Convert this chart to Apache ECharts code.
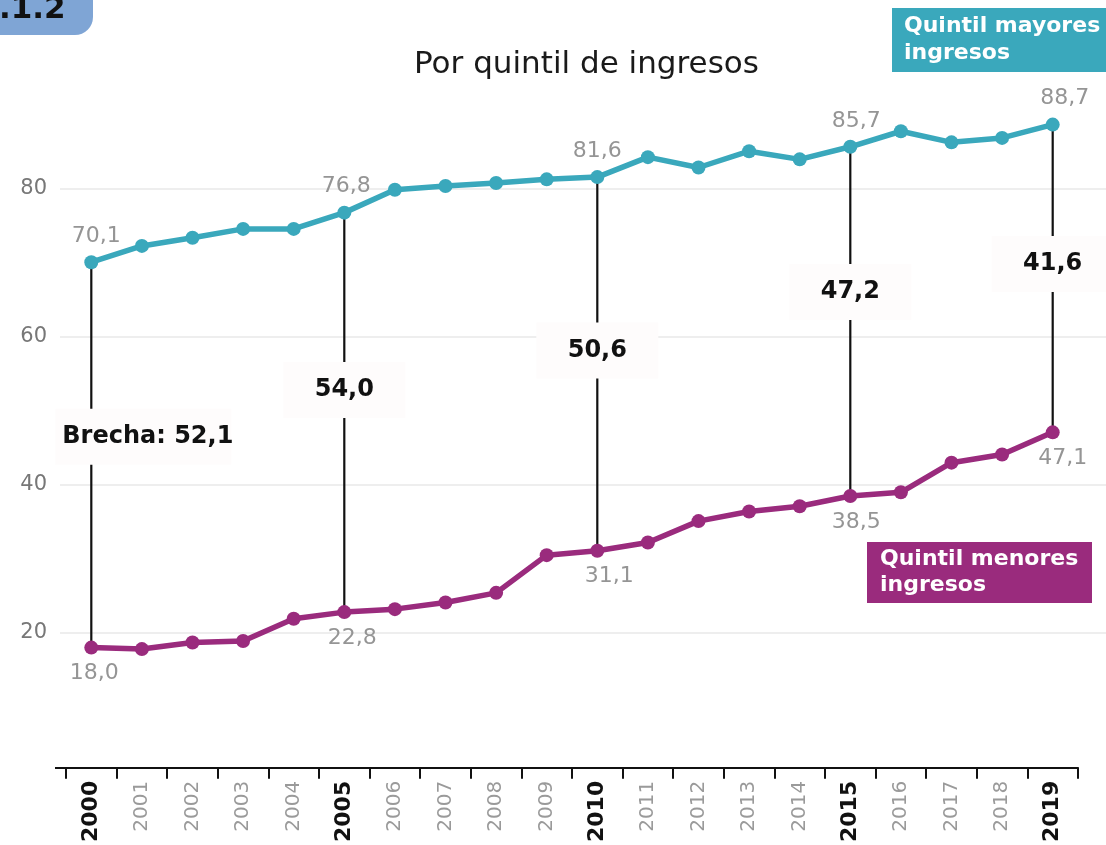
<!DOCTYPE html>
<html>
<head>
<meta charset="utf-8">
<script src="https://cdn.jsdelivr.net/npm/echarts@6/dist/echarts.min.js"></script>
<style>
html,body{margin:0;padding:0;background:#fff;}
#chart{width:1106px;height:845px;}
</style>
</head>
<body>
<div id="chart"></div>
<script>
// ---- data ----
const years = ['2000','2001','2002','2003','2004','2005','2006','2007','2008','2009',
               '2010','2011','2012','2013','2014','2015','2016','2017','2018','2019'];
const topQuintile = [70.1, 72.3, 73.4, 74.6, 74.6, 76.8, 79.9, 80.4, 80.8, 81.3,
                     81.6, 84.3, 82.9, 85.1, 84.0, 85.7, 87.8, 86.3, 86.9, 88.7];
const bottomQuintile = [18.0, 17.8, 18.7, 18.9, 21.9, 22.8, 23.2, 24.1, 25.4, 30.5,
                        31.1, 32.2, 35.1, 36.4, 37.1, 38.5, 39.0, 43.0, 44.1, 47.1];
const highlightYears = ['2000','2005','2010','2015','2019'];
const gapLabels = ['Brecha: 52,1', '54,0', '50,6', '47,2', '41,6'];
const yTickLabels = [20, 40, 60, 80];
const topName = ['Quintil mayores', 'ingresos'];
const bottomName = ['Quintil menores', 'ingresos'];

// ---- styles ----
const FONT = 'DejaVu Sans';
const TEAL = '#3aa8bc';
const PURPLE = '#9a2b7d';
const GRAY = '#959595';
const labelFrac = [0.547, 0.556, 0.536, 0.584, 0.547];
const topLabelDx = [5, 2, 0, 6, 12];
const botLabelDx = [3, 8, 12, 6, 10];

const hlIdx = highlightYears.map(y => years.indexOf(y));
const fmt = v => v.toFixed(1).replace('.', ',');

function lineData(arr, dx, pos) {
  return arr.map((v, i) => {
    const k = hlIdx.indexOf(i);
    if (k < 0) return v;
    return { value: v, label: { show: true, position: pos, offset: [dx[k], 0] } };
  });
}

const gapData = hlIdx.map((i, k) => [i, topQuintile[i], bottomQuintile[i], k]);

const chart = echarts.init(document.getElementById('chart'), null, { renderer: 'canvas' });

const option = {
  backgroundColor: '#ffffff',
  animation: false,
  textStyle: { fontFamily: FONT },
  title: {
    text: 'Por quintil de ingresos',
    left: 409, top: 44,
    textStyle: { fontFamily: FONT, fontSize: 31, fontWeight: 'normal', color: '#1a1a1a' }
  },
  grid: [
    { left: 66, right: 28, top: 41, bottom: 64, containLabel: false },
    { left: 60, right: 0, top: 41, bottom: 64, containLabel: false }
  ],
  xAxis: [
    {
      type: 'category', gridIndex: 0, data: years, boundaryGap: true,
      offset: -13,
      axisLine: { show: true, lineStyle: { color: '#111', width: 2 } },
      axisTick: { show: true, length: 11, lineStyle: { color: '#111', width: 2 } },
      axisLabel: {
        rotate: 90, margin: 13, interval: 0,
        formatter: v => highlightYears.includes(v) ? '{b|' + v + '}' : '{n|' + v + '}',
        rich: {
          b: { fontFamily: FONT, fontSize: 22, fontWeight: 'bold', color: '#111' },
          n: { fontFamily: FONT, fontSize: 20, color: '#9a9a9a' }
        }
      },
      splitLine: { show: false }
    },
    { type: 'value', gridIndex: 1, show: false, min: 0, max: 1 }
  ],
  yAxis: [
    {
      type: 'value', gridIndex: 0, min: 0, max: 100, interval: 20,
      axisLine: { show: false }, axisTick: { show: false },
      axisLabel: {
        margin: 19, fontFamily: FONT, fontSize: 21, color: '#777',
        formatter: v => yTickLabels.includes(v) ? String(v) : ''
      },
      splitLine: { show: false }
    },
    {
      type: 'value', gridIndex: 1, min: 0, max: 100, interval: 20,
      axisLine: { show: false }, axisTick: { show: false }, axisLabel: { show: false },
      splitLine: {
        show: true,
        lineStyle: { width: 2, color: ['rgba(0,0,0,0)', '#eeeeee', '#eeeeee', '#eeeeee', '#eeeeee', 'rgba(0,0,0,0)'] }
      }
    }
  ],
  series: [
    {
      type: 'custom', xAxisIndex: 0, yAxisIndex: 0, z: 1,
      data: gapData,
      renderItem: function (params, api) {
        const i = api.value(0), t = api.value(1), b = api.value(2), k = api.value(3);
        const pT = api.coord([i, t]);
        const pB = api.coord([i, b]);
        const pL = api.coord([i, b + (t - b) * labelFrac[k]]);
        const first = k === 0;
        const boxW = first ? 176 : 122;
        const boxX = first ? pT[0] - 36 : pT[0] - boxW / 2;
        return {
          type: 'group',
          children: [
            { type: 'line', shape: { x1: pT[0], y1: pT[1], x2: pB[0], y2: pB[1] },
              style: { stroke: '#111', lineWidth: 2.2 } },
            { type: 'rect', shape: { x: boxX, y: pL[1] - 28, width: boxW, height: 56 },
              style: { fill: '#fefcfc' } },
            { type: 'text',
              style: {
                x: first ? pT[0] - 29 : pT[0], y: pL[1],
                text: gapLabels[k],
                font: 'bold 24px "' + FONT + '"',
                fill: '#111',
                align: first ? 'left' : 'center',
                verticalAlign: 'middle'
              } }
          ]
        };
      }
    },
    {
      name: topName.join(' '), type: 'line', xAxisIndex: 0, yAxisIndex: 0, z: 3,
      data: lineData(topQuintile, topLabelDx, 'top'),
      symbol: 'circle', symbolSize: 14,
      lineStyle: { color: TEAL, width: 5.5 },
      itemStyle: { color: TEAL },
      label: { show: false, distance: 8, fontFamily: FONT, fontSize: 22, color: GRAY,
               formatter: p => fmt(p.value) }
    },
    {
      name: bottomName.join(' '), type: 'line', xAxisIndex: 0, yAxisIndex: 0, z: 3,
      data: lineData(bottomQuintile, botLabelDx, 'bottom'),
      symbol: 'circle', symbolSize: 14,
      lineStyle: { color: PURPLE, width: 5.5 },
      itemStyle: { color: PURPLE },
      label: { show: false, distance: 8, fontFamily: FONT, fontSize: 22, color: GRAY,
               formatter: p => fmt(p.value) }
    }
  ],
  graphic: [
    { type: 'rect', left: -20, top: -20, shape: { width: 113, height: 55, r: 18 },
      style: { fill: '#7fa5d5' }, z: 10 },
    { type: 'text', left: -1, top: -6, z: 11,
      style: { text: '.1.2', font: 'bold 31px "' + FONT + '"', fill: '#111' } },
    { type: 'line', shape: { x1: 55, y1: 768, x2: 66, y2: 768 },
      style: { stroke: '#111', lineWidth: 2 }, z: 10 },
    { type: 'rect', left: 892, top: 8, shape: { width: 230, height: 64 },
      style: { fill: TEAL }, z: 10 },
    { type: 'text', left: 904, top: 13, z: 11,
      style: { text: topName.join('\n'), font: 'bold 22px "' + FONT + '"', fill: '#fff', lineHeight: 27 } },
    { type: 'rect', left: 867, top: 542, shape: { width: 225, height: 61 },
      style: { fill: PURPLE }, z: 10 },
    { type: 'text', left: 880, top: 546, z: 11,
      style: { text: bottomName.join('\n'), font: 'bold 22px "' + FONT + '"', fill: '#fff', lineHeight: 26 } }
  ]
};

chart.setOption(option);
</script>
</body>
</html>
